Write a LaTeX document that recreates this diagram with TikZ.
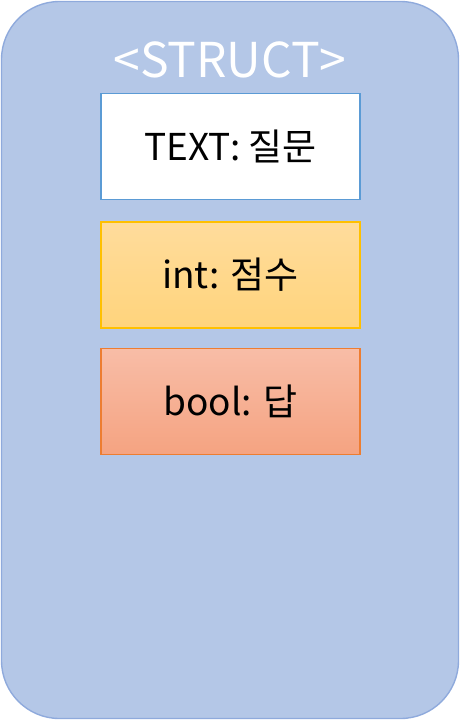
\documentclass[tikz,border=0pt]{standalone}
\usepackage{fontspec}
\setmainfont{Noto Sans CJK KR}
\definecolor{bgfill}{HTML}{B4C7E7}
\definecolor{bgline}{HTML}{8FAADC}
\definecolor{blueline}{HTML}{5B9BD5}
\definecolor{goldline}{HTML}{FFC000}
\definecolor{goldtop}{HTML}{FFDC9C}
\definecolor{goldbot}{HTML}{FFD47C}
\definecolor{orangeline}{HTML}{ED7D31}
\definecolor{oratop}{HTML}{F8BDA7}
\definecolor{orabot}{HTML}{F5A381}
\begin{document}
\begin{tikzpicture}[x=1pt,y=-1pt,
  fieldbox/.style={minimum width=259pt,minimum height=106pt,inner sep=0pt,line width=1.4pt,font=\fontsize{37}{44}\selectfont,text=black},
  titletext/.style={font=\fontsize{48}{56}\selectfont,text=white,inner sep=0pt}]
\useasboundingbox (0,0) rectangle (460,720);
\node[draw=bgline,fill=bgfill,line width=1.4pt,rounded corners=58pt,minimum width=457pt,minimum height=717pt,inner sep=0pt] (outer) at (230,360) {};
\node[titletext,anchor=base] (title) at (230,77) {<STRUCT>};
\node[fieldbox,draw=blueline,fill=white] (f1) at (230.5,146.5) {TEXT: 질문};
\node[fieldbox,draw=goldline,top color=goldtop,bottom color=goldbot] (f2) at (230.5,275) {int: 점수};
\node[fieldbox,draw=orangeline,top color=oratop,bottom color=orabot] (f3) at (230.5,401.5) {bool: 답};
\end{tikzpicture}
\end{document}
